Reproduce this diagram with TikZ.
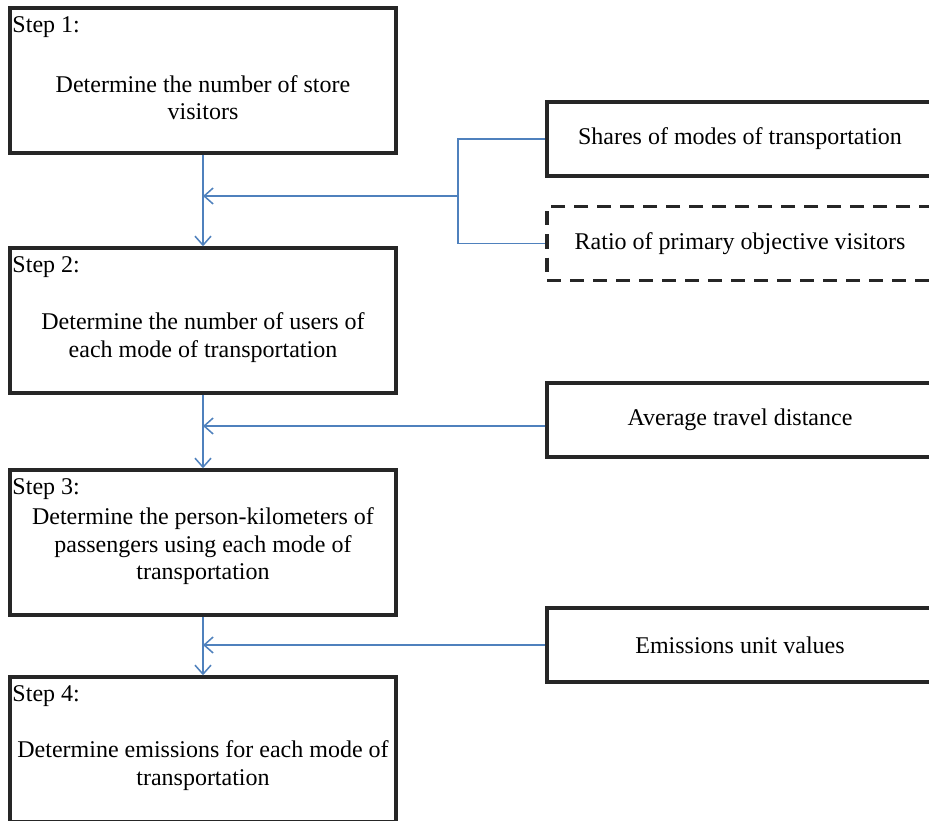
\documentclass[tikz,border=0pt]{standalone}
\usepackage{fontspec}
\setmainfont{Liberation Serif}
\usetikzlibrary{arrows.meta}
\usepackage{xcolor}
\definecolor{flowblue}{RGB}{79,129,189}

\tikzset{
  bigfont/.style={font=\fontsize{24}{27.6}\selectfont},
  stepbox/.style={draw=black!85, line width=3.4pt, minimum width=386pt, minimum height=145pt, inner sep=0pt},
  inbox/.style={draw=black!85, line width=3.4pt, minimum width=386pt, minimum height=74pt, inner sep=0pt, bigfont},
  dashbox/.style={inbox, dash pattern=on 14pt off 9pt},
  steptext/.style={align=center, bigfont},
  steplabel/.style={anchor=north west, inner xsep=4pt, inner ysep=10pt, bigfont},
  flow/.style={draw=flowblue, line width=1.5pt},
  flowarrow/.style={flow, -{Straight Barb[length=9pt,width=16pt]}},
}

\begin{document}
\begin{tikzpicture}[x=1pt, y=-1pt]

  \useasboundingbox (0,0) rectangle (929,821);
  \clip (0,0) rectangle (929,821);
  \fill[white] (0,0) rectangle (929,821);

  %--- Step boxes, left column ---
  \node[stepbox] (s1) at (203,80.5) {};
  \node[stepbox] (s2) at (203,320.5) {};
  \node[stepbox] (s3) at (203,542.5) {};
  \node[stepbox] (s4) at (203,749.5) {};

  \node[steplabel] (l1) at (s1.north west) {Step 1:};
  \node[steplabel] (l2) at (s2.north west) {Step 2:};
  \node[steplabel] (l3) at (s3.north west) {Step 3:};
  \node[steplabel] (l4) at (s4.north west) {Step 4:};

  \node[steptext] (t1) at ([yshift=-17pt]s1.center) {Determine the number of store\\visitors};
  \node[steptext] (t2) at ([yshift=-17pt]s2.center) {Determine the number of users of\\each mode of transportation};
  \node[steptext] (t3) at ([yshift=-4pt]s3.center) {Determine the person-kilometers of\\passengers using each mode of\\transportation};
  \node[steptext] (t4) at ([yshift=-16pt]s4.center) {Determine emissions for each mode of\\transportation};

  %--- Input boxes, right column ---
  \node[inbox] (shares) at (740,139) {Shares of modes of transportation};
  \node[dashbox] (ratio) at (740,243.5) {Ratio of primary objective visitors};
  \node[inbox] (avg) at (740,420) {Average travel distance};
  \node[inbox] (emis) at (740,645) {Emissions unit values};

  %--- Flow between steps ---
  \draw[flowarrow] (s1.south) -- (s2.north);
  \draw[flowarrow] (s2.south) -- (s3.north);
  \draw[flowarrow] (s3.south) -- (s4.north);

  %--- Inputs joining the flow ---
  % bracket from the two upper inputs
  \coordinate (jn) at (458,196);
  \draw[flow] (shares.west) -| (jn) |- (ratio.west);
  \draw[flowarrow] (jn) -- (jn -| s1.south);
  % this line meets its box a little below the middle
  \draw[flowarrow] ([yshift=-6pt]avg.west) -- ([yshift=-6pt]avg.west -| s2.south);
  \draw[flowarrow] (emis.west) -- (emis.west -| s3.south);

\end{tikzpicture}
\end{document}
